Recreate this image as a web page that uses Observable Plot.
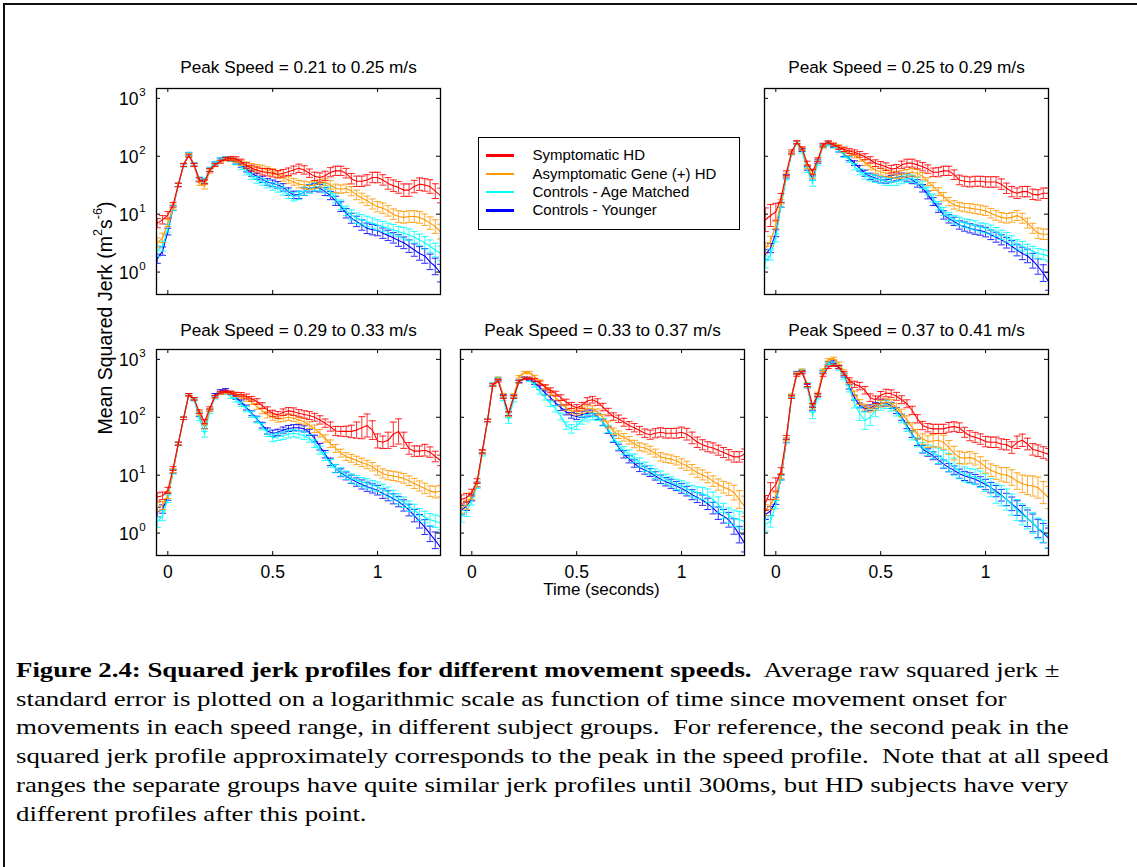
<!DOCTYPE html>
<html><head><meta charset="utf-8">
<script src="https://cdn.jsdelivr.net/npm/d3@7"></script>
<script src="https://cdn.jsdelivr.net/npm/@observablehq/plot@0.6"></script>
<style>
html,body{margin:0;padding:0;background:#fff;width:1137px;height:867px;overflow:hidden;}
#page{position:relative;width:1137px;height:867px;font-family:"Liberation Sans",Arial,sans-serif;color:#000;}
#border{position:absolute;left:3px;top:3px;width:1200px;height:1000px;border-left:2px solid #111;border-top:2px solid #111;}
#ylab{position:absolute;left:105px;top:318px;transform:translate(-50%,-50%) rotate(-90deg);font-size:19.5px;white-space:nowrap;}
#ylab sup{font-size:0.65em;position:relative;top:-0.15em;}
#xlab{position:absolute;left:601.5px;top:590px;transform:translate(-50%,-50%);font-size:17px;white-space:nowrap;}
#legend{position:absolute;left:477.5px;top:136.5px;width:260px;height:91px;border:1px solid #000;background:#fff;}
.lrow{position:absolute;left:0;height:18px;font-size:15px;white-space:nowrap;}
.lsw{position:absolute;left:7px;width:28px;height:2.5px;}
.ltx{position:absolute;left:54px;}
#caption{position:absolute;left:16px;top:656px;font-family:"Liberation Serif","Times New Roman",serif;font-size:22px;line-height:28.7px;white-space:pre;transform:scaleX(1.22);transform-origin:0 0;}
</style></head>
<body><div id="page"><div id="border"></div></div>
<script>
// ---------- data ----------
const TIME = [-0.05,-0.025,0,0.025,0.05,0.075,0.1,0.125,0.15,0.175,0.2,0.225,0.25,0.275,0.3,0.325,0.35,0.375,0.4,0.425,0.45,0.475,0.5,0.525,0.55,0.575,0.6,0.625,0.65,0.675,0.7,0.725,0.75,0.775,0.8,0.825,0.85,0.875,0.9,0.925,0.95,0.975,1,1.025,1.05,1.075,1.1,1.125,1.15,1.175,1.2,1.225,1.25,1.275,1.3];

const SERIES_NAMES = ["Symptomatic HD","Asymptomatic Gene (+) HD","Controls - Age Matched","Controls - Younger"];
const SERIES_COLORS = ["#ff0000","#ff9900","#00ffff","#0000ff"];
const PANEL_TITLES = ["Peak Speed = 0.21 to 0.25 m/s","Peak Speed = 0.25 to 0.29 m/s","Peak Speed = 0.29 to 0.33 m/s","Peak Speed = 0.33 to 0.37 m/s","Peak Speed = 0.37 to 0.41 m/s"];
const X_TICKS = [0,0.5,1];
const X_TICK_LABELS = ["0","0.5","1"];
const Y_TICKS = [1,10,100,1000];
const Y_TICK_EXP = ["0","1","2","3"];
const X_LABEL = "Time (seconds)";

// mean squared jerk (m^2 s^-6), one value per TIME point
const P1_SYM  = [7,8,9.7,14.5,32,71,102,71,39,36,58,71,81,90,92,90,81,69,62,58,54,53,51,49,51,54,58,62,58,51,45,43,46,53,56,56,51,41,37,37,39,43,43,39,34,31,29,26,26,30,33,32,30,25,21];
const P1_ASYM = [3.2,3.9,7,13.5,32,71,105,70,34,30,55,70,80,88,90,85,76,71,66,64,62,58,54,48,42,39,36,33,32,31,32,34,36,32,28,27,28,25,21.5,19,17,15,13.5,12.7,11.4,10,9.1,8.8,9.1,9.1,8.8,8,7,6.1,5.0];
const P1_CAGE = [2.3,2.8,5.7,12.7,32,70,110,72,40,38,60,75,88,92,88,78,66,54,45,39,36,33,30,28,25,22,20,21,25,27,30,30,28,24.5,19,14.5,11.4,9.7,8.5,8,7.5,7,6.5,6.1,5.7,5.4,5,4.7,4.4,4,3.6,3.2,2.8,2.4,2.1];
const P1_CYNG = [1.7,2.3,5,12.7,32,70,110,72,40,37,58,75,88,92,88,80,71,60,51,45,40,36,34,32,29,24.5,21.5,21.5,24.5,28,29,28,24.5,21,17,13.5,10.4,8.5,7.5,6.5,5.7,5.4,5.2,4.7,4.3,3.9,3.5,3.2,2.8,2.4,2.1,1.9,1.5,1.25,0.96];

const P2_SYM  = [8,9.5,11,19,51,120,174,137,76,54,87,158,174,158,141,132,123,117,108,98,87,76,71,66,60,62,71,76,76,71,66,60,53,53,56,56,48,39,37,36,37,37,36,36,36,33,28,24.5,23,24.5,24.5,22,21.5,23,23];
const P2_ASYM = [2.6,3.4,6.5,16.5,48,113,174,133,66,45,87,147,174,160,147,128,113,103,92,78,66,58,54,51,49,47,49,51,53,51,45,36.5,30,24.5,20,16.5,14.5,13.5,13,12.7,12.3,11.9,11.4,10.4,9.5,8.8,8.5,8.8,9.5,8.5,7,5.7,4.7,4.5,4.5];
const P2_CAGE = [1.5,2.0,3.9,14.5,42,113,168,120,58,34,76,147,160,147,130,105,87,66,54,46,43,41,39,36.5,36,36.5,39,41,41,37.5,32,25,19,14,11.1,9.1,8,7.5,7,6.7,6.4,5.9,5.7,5.4,4.9,4.4,4.0,3.5,3.0,2.8,2.5,2.3,2.1,2.0,1.9];
const P2_CYNG = [2.0,2.6,4.7,14.5,45,113,174,128,62,42,81,153,168,150,128,108,92,76,62,51,45,42,39,39,41,43,45,43,39,34,28,21.5,16.5,12.7,9.7,8.3,7.5,6.5,6.1,5.7,5.4,5.2,4.9,4.4,4.0,3.6,3.2,2.8,2.4,2.1,1.9,1.57,1.25,0.96,0.69];

const P3_SYM  = [4.2,4.4,5.5,13,35,96,245,208,125,84,143,228,268,280,265,250,245,228,208,187,159,134,117,110,122,129,125,117,112,107,100,90,79,69,58,57,57,57,60,66,72,60,39,37,40,51,57,40,29,26,26,27,25,21,18];
const P3_ASYM = [2.8,3.0,4.5,12,35,96,240,208,117,69,134,228,260,268,265,245,228,208,183,153,129,110,100,93,96,100,96,90,84,73,63,53,43,35,29,24,21,19.5,18,16.6,15.3,14,12,10.7,10,9.7,9.3,8.8,8,7.2,6.5,5.9,5.3,5.1,5.3];
const P3_CAGE = [1.55,2.0,3.9,11.4,35,96,240,200,96,51,125,220,260,260,228,200,168,139,112,90,69,53,44,46,48,51,53,51,48,43,35,27,21,16,13,11.4,10,8.8,8.2,7.6,7.2,6.7,6.3,5.7,5.1,4.5,3.9,3.4,2.9,2.5,2.1,1.9,1.7,1.6,1.5];
const P3_CYNG = [2.3,2.6,4.2,11.7,35,96,245,208,110,69,134,245,285,298,265,220,183,147,117,93,73,58,53,55,60,64,66,66,63,55,43,31,23,17,13,11,9.7,8.5,7.6,6.9,6.3,5.9,5.5,4.8,4.4,3.9,3.5,3.0,2.5,2.0,1.6,1.27,0.97,0.75,0.57];

const P4_SYM  = [3.8,4.1,5.0,7.9,26,88,360,425,224,115,224,410,470,470,437,390,335,293,256,218,183,160,146,160,191,201,183,150,123,103,94,82,72,66,59,53,50,53,55,53,53,53,55,51,44,37,33.5,31,29.5,27,24.6,22.5,20.7,20.7,23];
const P4_ASYM = [2.7,3.1,4.4,6.9,25,88,360,470,240,112,240,500,590,590,500,410,325,262,218,176,146,128,123,131,140,140,123,98,75,57,50,45,40,34.5,31,29.5,27,24,20.7,19.6,18.9,17.7,15.9,14.5,12.6,11.1,10.1,9.1,7.9,6.9,6.2,5.7,5.0,3.8,2.9];
const P4_CAGE = [1.95,2.4,3.6,6.5,23,88,370,470,210,88,200,410,470,437,360,275,218,171,140,103,72,63,72,88,98,103,100,82,63,45,32,26.5,23,19.6,16.5,13.9,12.2,10.6,9.7,8.5,7.7,6.9,6.5,5.9,5.3,5.0,4.8,4.4,3.8,3.1,2.4,2.0,1.8,1.7,1.6];
const P4_CYNG = [2.5,2.9,4.1,6.9,25,88,370,450,230,115,230,420,470,450,390,325,262,218,176,146,123,108,103,112,118,118,103,82,60,42,30,23,18.9,15.9,13.5,12.2,11.1,9.7,8.5,7.7,7.1,6.5,5.9,5.3,4.6,4.1,3.7,3.2,2.7,2.2,1.95,1.7,1.3,0.94,0.67];

const P5_SYM  = [3.3,5.3,6.9,11.8,45,224,535,590,360,160,240,535,730,795,730,570,437,370,345,293,218,201,240,262,256,230,201,171,131,94,72,66,63,63,63,67,69,66,55,48,45,42,38,37,37,34.5,33.5,30,37,40,34.5,28,26.5,24.6,23];
const P5_ASYM = [2.5,3.1,4.4,9.7,42,240,570,650,360,150,256,650,980,1040,850,610,410,256,183,150,140,150,171,183,176,150,118,90,67,51,42,38,39,40,37,30,24,20.3,19.6,20.3,18.9,16.5,13.9,12.2,11.1,10.3,10.1,9.1,7.9,7.1,6.7,6.5,6.1,5.0,4.1];
const P5_CAGE = [1.4,1.6,3.1,9.1,39,230,570,640,360,108,224,610,850,850,700,500,310,171,115,88,100,131,160,167,150,123,94,67,48,37,30,27,24.6,21.6,18.9,16.5,13.9,11.8,10.3,9.7,9.3,8.5,7.4,6.1,4.8,4.4,3.8,3.1,2.5,2.1,1.8,1.5,1.2,1.07,0.87];
const P5_CYNG = [2.1,2.4,3.6,9.1,39,230,590,610,345,140,240,610,870,900,740,535,335,218,160,140,146,160,176,176,160,131,100,72,51,37,28,24.6,21.6,18.2,15.5,13.5,12.2,10.6,9.7,9.1,8.5,7.7,6.9,6.1,5.3,4.5,3.8,3.2,2.7,2.2,1.8,1.5,1.2,1.0,0.82];

// standard error, percent of the mean, one value per TIME point
const P1_SYM_SE  = [20,18,14,10,7,6,6,6,8,8,7,6,6,6,8,9,10,12,13,13,14,16,16,16,16,16,17,18,18,18,18,20,20,20,20,20,21,23,23,23,23,23,23,23,26,26,26,28,28,28,28,28,31,34,34];
const P1_ASYM_SE = [22,20,15,10,7,6,6,6,8,10,7,6,6,6,8,9,10,12,13,13,13,13,13,13,13,14,14,16,16,16,16,16,16,18,18,18,18,20,21,21,21,22,23,23,23,23,26,26,26,26,26,26,28,31,34];
const P1_CAGE_SE = [24,22,16,10,7,6,6,6,9,10,8,6,6,6,9,10,12,13,13,14,14,16,16,17,17,18,18,18,18,18,18,18,20,21,21,21,21,22,23,23,23,23,23,23,23,23,23,26,26,26,26,28,28,31,34];
const P1_CYNG_SE = [20,18,14,10,7,6,6,6,8,9,7,6,6,6,8,9,10,12,13,13,13,14,14,14,16,16,16,16,16,16,16,16,17,18,20,21,21,22,23,23,23,23,23,23,23,23,26,26,28,28,31,34,36,39,42];

const P2_SYM_SE  = [60,55,40,20,10,7,6,6,8,10,8,6,6,6,8,9,10,10,12,13,13,14,14,16,16,16,16,17,17,17,18,18,18,20,20,20,21,21,22,22,22,22,23,23,23,23,23,23,23,23,23,23,23,23,23];
const P2_ASYM_SE = [25,22,16,10,7,6,6,6,8,10,7,6,6,6,8,9,10,10,12,13,13,14,14,14,14,14,16,16,16,16,16,17,17,17,18,18,18,18,18,20,20,20,20,21,21,21,21,21,22,22,22,22,23,23,23];
const P2_CAGE_SE = [26,24,18,10,7,6,6,6,10,12,8,6,6,6,9,10,12,13,13,14,14,16,16,16,16,16,16,16,16,16,16,17,17,18,18,18,18,18,18,20,20,20,20,20,20,20,21,21,21,21,21,21,22,22,23];
const P2_CYNG_SE = [22,20,15,10,7,6,6,6,8,9,7,6,6,6,8,9,10,10,12,13,13,13,13,14,14,14,14,16,16,16,16,17,17,18,18,18,18,18,20,20,20,20,21,21,22,22,23,25,26,28,31,34,36,39,42];

const P3_SYM_SE  = [18,16,12,8,6,5,5,5,7,8,6,5,5,5,6,8,9,10,10,12,12,13,13,14,14,14,16,16,16,17,17,18,18,20,20,21,23,28,38,55,58,45,32,28,38,62,65,38,26,23,23,26,23,23,23];
const P3_ASYM_SE = [20,18,14,8,6,5,5,5,8,10,6,5,5,5,6,8,9,10,10,12,12,13,13,13,13,13,13,14,14,14,16,16,16,16,17,17,17,17,18,18,18,18,20,20,20,20,21,21,21,22,22,23,23,26,26];
const P3_CAGE_SE = [24,22,16,9,6,5,5,5,10,12,8,6,5,5,8,9,10,12,13,13,14,14,16,16,16,16,16,16,16,16,16,17,17,17,18,18,18,20,20,20,21,21,21,22,22,22,23,23,23,26,26,26,28,28,31];
const P3_CYNG_SE = [20,18,14,8,6,5,5,5,7,8,6,5,5,5,6,8,9,10,10,12,12,13,13,13,13,13,13,13,13,13,14,14,16,16,17,17,17,18,18,20,20,20,21,21,22,22,23,25,26,28,31,34,36,39,42];

const P4_SYM_SE  = [20,18,14,10,7,5,5,5,6,8,6,5,5,5,6,8,9,10,10,12,12,13,13,13,14,14,14,16,16,16,16,17,17,18,18,18,20,20,20,21,21,22,23,26,26,23,22,22,22,22,22,23,23,23,23];
const P4_ASYM_SE = [22,20,15,10,7,5,5,5,7,9,6,5,5,5,6,8,9,10,10,12,12,12,13,13,13,13,13,14,14,14,16,16,16,16,17,17,17,17,18,18,18,18,20,20,21,21,22,23,23,25,26,28,34,42,50];
const P4_CAGE_SE = [26,24,18,10,7,5,5,5,8,12,8,6,5,5,8,9,10,12,13,14,16,18,17,16,14,14,14,16,16,17,17,17,18,18,20,20,21,21,21,22,22,23,23,25,26,26,28,31,34,36,36,36,39,39,39];
const P4_CYNG_SE = [20,18,14,10,7,5,5,5,7,8,6,5,5,5,6,8,9,10,10,12,12,12,13,13,13,13,13,13,14,14,14,16,16,16,17,17,17,18,18,18,20,20,21,21,22,22,23,25,26,28,31,34,36,39,42];

const P5_SYM_SE  = [35,40,30,14,8,6,5,5,6,8,6,5,5,5,6,8,10,13,16,16,16,16,16,16,16,17,17,17,18,18,18,18,20,20,20,21,21,21,22,22,22,23,23,23,23,23,23,26,28,28,26,26,26,26,26];
const P5_ASYM_SE = [25,22,16,10,7,5,5,5,7,9,6,5,5,5,6,8,9,10,10,12,13,13,14,14,16,16,17,18,20,21,23,26,28,31,32,32,31,28,26,26,26,26,28,28,31,31,34,36,39,42,45,49,52,55,55];
const P5_CAGE_SE = [30,26,18,10,7,5,5,5,10,14,8,6,5,5,8,10,13,18,31,42,39,28,21,18,17,17,17,18,18,20,21,23,28,36,42,44,42,36,34,34,36,39,42,44,47,49,52,52,52,52,52,52,52,55,55];
const P5_CYNG_SE = [22,20,15,10,7,5,5,5,7,8,6,5,5,5,6,8,9,10,10,12,12,12,13,13,13,13,13,13,14,14,16,16,17,17,18,18,18,20,20,21,21,22,23,23,25,26,28,31,34,36,39,42,44,47,49];

const CAPTION_BOLD = "Figure 2.4: Squared jerk profiles for different movement speeds.";
const CAPTION_LINES = [
  "  Average raw squared jerk \u00b1",
  "standard error is plotted on a logarithmic scale as function of time since movement onset for",
  "movements in each speed range, in different subject groups.  For reference, the second peak in the",
  "squared jerk profile approximately corresponds to the peak in the speed profile.  Note that at all speed",
  "ranges the separate groups have quite similar jerk profiles until 300ms, but HD subjects have very",
  "different profiles after this point."
];

// ---------- assembly ----------
const PANELS = [
  {title: PANEL_TITLES[0], means: [P1_SYM,P1_ASYM,P1_CAGE,P1_CYNG], ses: [P1_SYM_SE,P1_ASYM_SE,P1_CAGE_SE,P1_CYNG_SE]},
  {title: PANEL_TITLES[1], means: [P2_SYM,P2_ASYM,P2_CAGE,P2_CYNG], ses: [P2_SYM_SE,P2_ASYM_SE,P2_CAGE_SE,P2_CYNG_SE]},
  {title: PANEL_TITLES[2], means: [P3_SYM,P3_ASYM,P3_CAGE,P3_CYNG], ses: [P3_SYM_SE,P3_ASYM_SE,P3_CAGE_SE,P3_CYNG_SE]},
  {title: PANEL_TITLES[3], means: [P4_SYM,P4_ASYM,P4_CAGE,P4_CYNG], ses: [P4_SYM_SE,P4_ASYM_SE,P4_CAGE_SE,P4_CYNG_SE]},
  {title: PANEL_TITLES[4], means: [P5_SYM,P5_ASYM,P5_CAGE,P5_CYNG], ses: [P5_SYM_SE,P5_ASYM_SE,P5_CAGE_SE,P5_CYNG_SE]}
];
// layout: frame left/top in page px, which axes carry labels, title offset
const LAYOUT = [
  {fx:155.5, fy:87.5,  yl:true,  xl:false, tdy:-21},
  {fx:763.5, fy:87.5,  yl:false, xl:false, tdy:-21},
  {fx:155.5, fy:348.5, yl:true,  xl:true,  tdy:-19},
  {fx:459.5, fy:348.5, yl:false, xl:true,  tdy:-19},
  {fx:763.5, fy:348.5, yl:false, xl:true,  tdy:-19}
];
const FW = 284, FH = 206, ML = 50, MR = 6, MT = 32, MB = 32;
const DRAW_ORDER = [3,2,1,0];
const cap = {draw(ctx){ ctx.moveTo(-3.5,0); ctx.lineTo(3.5,0); }};

const page = document.getElementById("page");

PANELS.forEach((p, k) => {
  const L = LAYOUT[k];
  const marks = [];
  for (const s of DRAW_ORDER) {
    const vals = p.means[s], se = p.ses[s], col = SERIES_COLORS[s];
    const rows = TIME.map((t, i) => ({t, v: vals[i], lo: vals[i] / (1 + se[i] / 100), hi: vals[i] * (1 + se[i] / 100)}));
    marks.push(Plot.ruleX(rows, {x: "t", y1: "lo", y2: "hi", stroke: col, strokeWidth: 1, strokeOpacity: 0.8, clip: true}));
    marks.push(Plot.dot(rows, {x: "t", y: "hi", symbol: cap, stroke: col, fill: "none", strokeWidth: 1, strokeOpacity: 0.85, clip: true}));
    marks.push(Plot.dot(rows, {x: "t", y: "lo", symbol: cap, stroke: col, fill: "none", strokeWidth: 1, strokeOpacity: 0.85, clip: true}));
    marks.push(Plot.line(rows, {x: "t", y: "v", stroke: col, strokeWidth: 1.1, clip: true}));
  }
  marks.push(Plot.frame({stroke: "#000", strokeWidth: 1.3}));
  marks.push(Plot.tickX(X_TICKS, {x: d => d, insetTop: FH - 4, stroke: "#000"}));
  marks.push(Plot.tickX(X_TICKS, {x: d => d, insetBottom: FH - 4, stroke: "#000"}));
  marks.push(Plot.tickY(Y_TICKS, {y: d => d, insetRight: FW - 4, stroke: "#000"}));
  marks.push(Plot.tickY(Y_TICKS, {y: d => d, insetLeft: FW - 4, stroke: "#000"}));
  marks.push(Plot.text([p.title], {text: d => d, frameAnchor: "top", lineAnchor: "middle", dy: L.tdy, fontSize: 17.2, fill: "#000"}));
  if (L.xl) marks.push(Plot.text(X_TICKS, {x: d => d, text: (d, i) => X_TICK_LABELS[i], frameAnchor: "bottom", lineAnchor: "middle", dy: 17, fontSize: 17.5, fill: "#000"}));
  if (L.yl) {
    marks.push(Plot.text(Y_TICKS, {y: d => d, text: () => "10", frameAnchor: "left", lineAnchor: "middle", dx: -18, dy: 1, textAnchor: "end", fontSize: 17.5, fill: "#000"}));
    marks.push(Plot.text(Y_TICKS, {y: d => d, text: (d, i) => Y_TICK_EXP[i], frameAnchor: "left", lineAnchor: "middle", dx: -17.2, dy: -6, textAnchor: "start", fontSize: 11.5, fill: "#000"}));
  }
  const svg = Plot.plot({
    width: FW + ML + MR, height: FH + MT + MB,
    marginLeft: ML, marginRight: MR, marginTop: MT, marginBottom: MB,
    x: {domain: [-0.054, 1.3], axis: null},
    y: {type: "log", domain: [0.41, 1480], axis: null},
    style: {fontFamily: "'Liberation Sans', Arial, sans-serif", background: "transparent", overflow: "visible"},
    marks
  });
  svg.style.position = "absolute";
  svg.style.left = (L.fx - ML) + "px";
  svg.style.top = (L.fy - MT) + "px";
  page.appendChild(svg);
});

// y label
const yl = document.createElement("div");
yl.id = "ylab";
yl.innerHTML = "Mean Squared Jerk (m<sup>2</sup>s<sup>-6</sup>)";
page.appendChild(yl);
// x label
const xl = document.createElement("div");
xl.id = "xlab";
xl.textContent = X_LABEL;
page.appendChild(xl);
// legend
const lg = document.createElement("div");
lg.id = "legend";
SERIES_NAMES.forEach((n, i) => {
  const r = document.createElement("div");
  r.className = "lrow";
  r.style.top = (8.8 + i * 18.3) + "px";
  r.style.width = "100%";
  const sw = document.createElement("div");
  sw.className = "lsw"; sw.style.background = SERIES_COLORS[i]; sw.style.top = "8px";
  const tx = document.createElement("div");
  tx.className = "ltx"; tx.textContent = n;
  r.appendChild(sw); r.appendChild(tx); lg.appendChild(r);
});
page.appendChild(lg);
// caption
const cp = document.createElement("div");
cp.id = "caption";
const first = document.createElement("div");
const b = document.createElement("b"); b.textContent = CAPTION_BOLD;
first.appendChild(b); first.appendChild(document.createTextNode(CAPTION_LINES[0]));
cp.appendChild(first);
CAPTION_LINES.slice(1).forEach(t => { const d = document.createElement("div"); d.textContent = t; cp.appendChild(d); });
page.appendChild(cp);
</script>
</body></html>
